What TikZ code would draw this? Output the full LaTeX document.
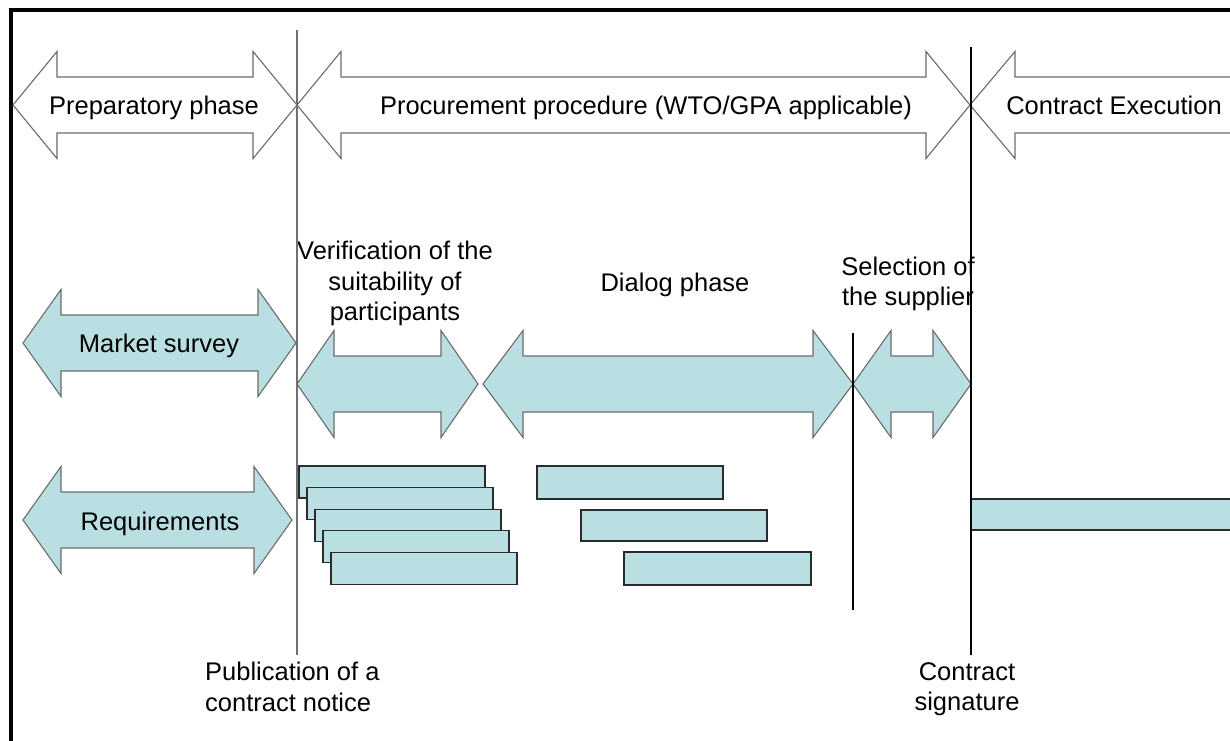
\documentclass[tikz,border=0pt]{standalone}
\usepackage{fontspec}
\setmainfont{Liberation Sans}
\definecolor{taskfill}{HTML}{B9DFE2}
\definecolor{arrowline}{HTML}{6B6B6B}
\definecolor{barline}{HTML}{2B2B2B}
\definecolor{publine}{HTML}{707070}
\tikzset{
  phasearrow/.style={draw=arrowline, fill=white, line width=1.1pt},
  taskarrow/.style={draw=arrowline, fill=taskfill, line width=1.1pt},
  taskbar/.style={draw=barline, fill=taskfill, line width=1.1pt},
  lbl/.style={font=\fontsize{25.5}{30.3}\selectfont, inner sep=0pt, align=center},
  onelbl/.style={lbl, text height=18.5pt, text depth=0pt},
  milestone/.style={draw=black, line width=1.2pt},
}
% block arrow with two heads: style, left tip, right tip, centre y, head depth
\newcommand{\blockarrow}[5]{%
  \filldraw[#1] (#2,#4) -- ({#2+#5},{#4-53.5}) -- ({#2+#5},{#4-28})
    -- ({#3-#5},{#4-28}) -- ({#3-#5},{#4-53.5}) -- (#3,#4)
    -- ({#3-#5},{#4+53.5}) -- ({#3-#5},{#4+28}) -- ({#2+#5},{#4+28})
    -- ({#2+#5},{#4+53.5}) -- cycle;}

\begin{document}
\begin{tikzpicture}[x=1pt, y=-1pt]
  \useasboundingbox (0,0) rectangle (1230,740);
  \clip (0,0) rectangle (1230,740);
  \draw[line width=3.4pt] (11,745) -- (11,10) -- (1235,10);

  % phases
  \blockarrow{phasearrow}{13}{297}{105}{44}
  \blockarrow{phasearrow}{297}{970}{105}{44}
  \filldraw[phasearrow] (1240,77) -- (1015,77) -- (1015,51.5) -- (970,105)
    -- (1015,158.5) -- (1015,133) -- (1240,133);
  \node[onelbl] (prep) at (154,105) {Preparatory phase};
  \node[onelbl] (proc) at (646,105) {Procurement procedure (WTO/GPA applicable)};
  \node[onelbl] (exec) at (1114,105) {Contract Execution};

  % tasks
  \blockarrow{taskarrow}{23}{296}{343}{38}
  \blockarrow{taskarrow}{23}{292}{520}{38}
  \blockarrow{taskarrow}{297}{478}{384}{37}
  \blockarrow{taskarrow}{483}{853}{384}{40}
  \blockarrow{taskarrow}{853}{971}{384}{38}
  \node[onelbl] (market) at (159,343) {Market survey};
  \node[onelbl] (req) at (160,521) {Requirements};
  \node[lbl] (verif) at (395,283.5) {Verification of the\\suitability of\\participants};
  \node[onelbl] (dialog) at (675,282) {Dialog phase};
  \node[lbl] (select) at (908,284) {Selection of\\the supplier};

  % bars
  \foreach \i in {0,...,4}
    \filldraw[taskbar] ({299+8*\i},{466+21.6*\i}) rectangle ++(186,32);
  \filldraw[taskbar] (537,466) rectangle (723,499);
  \filldraw[taskbar] (581,510) rectangle (767,541);
  \filldraw[taskbar] (624,552) rectangle (811,585);
  \filldraw[taskbar] (971,499) rectangle (1240,530);

  % milestones
  \coordinate (pubtop) at (297,30);
  \coordinate (pubend) at (297,655);
  \coordinate (signtop) at (971,47);
  \coordinate (signend) at (971,655);
  \coordinate (seltop) at (853,333);
  \coordinate (selend) at (853,610);
  \draw[publine, line width=1.4pt] (pubtop) -- (pubend);
  \draw[milestone] (signtop) -- (signend);
  \draw[milestone] (seltop) -- (selend);
  \node[lbl, align=left, anchor=west] (publ) at (205,687) {Publication of a\\contract notice};
  \node[lbl] (sign) at (967,689) {Contract\\signature};
\end{tikzpicture}
\end{document}
